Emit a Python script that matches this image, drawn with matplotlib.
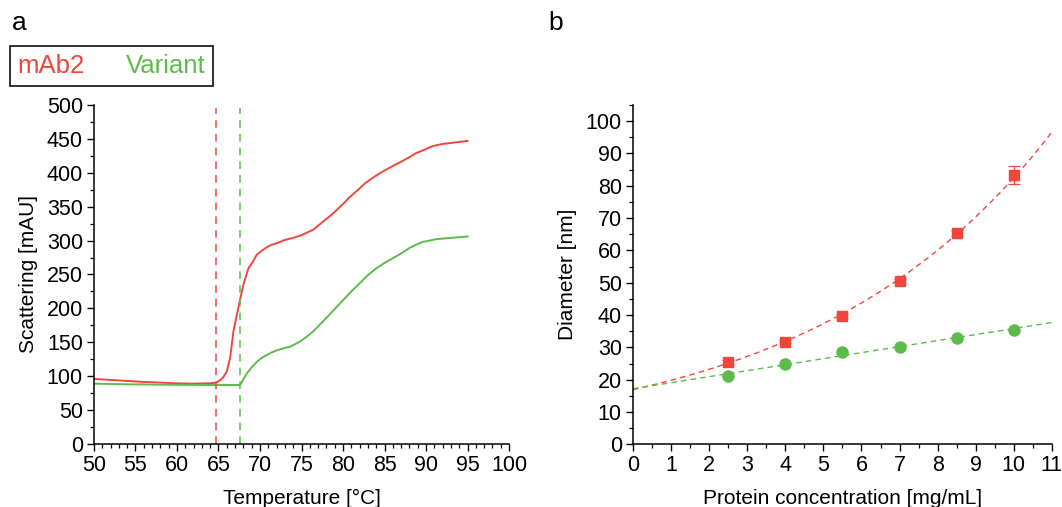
import numpy as np
import matplotlib
matplotlib.use("Agg")
import matplotlib.pyplot as plt
from matplotlib.ticker import MultipleLocator
from matplotlib.lines import Line2D

plt.rcParams['font.family'] = ['Liberation Sans', 'DejaVu Sans']

RED = '#F0463C'
GREEN = '#5DBB4C'

# --- panel a: scattering vs temperature ---
temp_mab2 = [50, 52, 54, 56, 58, 60, 62, 64, 64.7, 65.2, 65.6, 66.0, 66.4, 66.8, 67.2,
             67.6, 68.0, 68.6, 69.2, 69.6, 70.2, 70.8, 71.4, 72, 73, 74, 75, 76.4, 77.5,
             78.8, 80, 80.8, 82, 82.7, 84, 84.8, 86, 86.8, 88, 88.8, 90, 90.4, 91, 92,
             93, 94, 95]
scat_mab2 = [96, 94.5, 93, 91.5, 90.5, 89.5, 89, 89.5, 90.5, 94, 99, 107, 127, 166, 190,
             213, 235, 259, 270, 279, 285, 290, 294, 296, 301, 304, 308, 316, 327,
             340, 354, 364, 377, 385, 396, 402, 410, 415, 423, 429, 435, 437.5, 440, 442.5,
             444, 445.5, 447]

temp_var = [50, 52, 54, 56, 58, 60, 62, 64, 66, 67.6, 68.4, 69.0, 69.6, 70.2, 70.8, 71.4,
            72, 72.8, 73.6, 74.2, 74.8, 75.6, 76.4, 77.2, 78, 79, 80, 81, 82, 83, 84,
            85, 86, 87, 88, 88.8, 89.6, 90.4, 91.2, 92.5, 94, 95]
scat_var = [89, 88.5, 88, 87.8, 87.5, 87.3, 87.1, 87, 87, 87, 104, 113, 121, 127, 131, 135,
            138, 141, 143.5, 147, 151, 158, 166, 176, 186, 199, 212, 225, 237, 249, 259,
            267, 274, 281, 289, 294, 298, 300, 302, 303.5, 305, 306]

tm_mab2 = 64.7
tm_var = 67.6

# --- panel b: diameter vs concentration ---
conc = [2.5, 4, 5.5, 7, 8.5, 10]
diam_mab2 = [25.5, 31.8, 39.8, 50.6, 65.4, 83.3]
err_mab2 = [0.5, 0.5, 0.6, 0.6, 1.0, 2.7]
diam_var = [21.1, 24.8, 28.5, 30.2, 33.0, 35.4]

fig = plt.figure(figsize=(10.62, 5.07), dpi=100)
ax1 = fig.add_axes([0.0885, 0.1243, 0.3908, 0.6686])
ax2 = fig.add_axes([0.596, 0.1237, 0.3945, 0.6692])

for ax in (ax1, ax2):
    for side in ('top', 'right'):
        ax.spines[side].set_visible(False)
    ax.spines['left'].set_linewidth(1.1)
    ax.spines['bottom'].set_linewidth(1.1)
    ax.tick_params(which='major', direction='out', length=5, width=1.0, labelsize=15.5, pad=3)
    ax.tick_params(which='minor', direction='out', length=3, width=0.9)

ax1.plot(temp_mab2, scat_mab2, color=RED, lw=1.4)
ax1.plot(temp_var, scat_var, color=GREEN, lw=1.4)
ax1.plot([tm_mab2, tm_mab2], [0, 495], color=RED, lw=1.1, ls=(0, (5, 4)))
ax1.plot([tm_var, tm_var], [0, 495], color=GREEN, lw=1.1, ls=(0, (5, 4)))
ax1.set_xlim(50, 100)
ax1.set_ylim(0, 500)
ax1.xaxis.set_major_locator(MultipleLocator(5))
ax1.xaxis.set_minor_locator(MultipleLocator(1))
ax1.yaxis.set_major_locator(MultipleLocator(50))
ax1.yaxis.set_minor_locator(MultipleLocator(25))
ax1.set_xlabel("Temperature [°C]", fontsize=15, labelpad=9)
ax1.set_ylabel("Scattering [mAU]", fontsize=15, labelpad=6)

# fits: exponential for mAb2, linear for the variant
k, lnd0 = np.polyfit(conc, np.log(diam_mab2), 1)
slope, icpt = np.polyfit(conc, diam_var, 1)
xfit = np.linspace(0, 11, 200)
ax2.plot(xfit, np.exp(lnd0) * np.exp(k * xfit), color=RED, lw=1.0, ls=(0, (4, 3)))
ax2.plot(xfit, icpt + slope * xfit, color=GREEN, lw=1.0, ls=(0, (4, 3)))
ax2.errorbar(conc, diam_mab2, yerr=err_mab2, fmt='s', color=RED, ms=7.5,
             ecolor=RED, elinewidth=0.9, capsize=4, capthick=0.9, zorder=3)
ax2.plot(conc, diam_var, 'o', color=GREEN, ms=8, zorder=3)
ax2.set_xlim(0, 11)
ax2.set_ylim(0, 105)
ax2.xaxis.set_major_locator(MultipleLocator(1))
ax2.xaxis.set_minor_locator(MultipleLocator(0.5))
ax2.yaxis.set_minor_locator(MultipleLocator(5))
ax2.set_yticks(np.arange(0, 101, 10))
ax2.set_xlabel("Protein concentration [mg/mL]", fontsize=15, labelpad=9)
ax2.set_ylabel("Diameter [nm]", fontsize=15, labelpad=6)

# colour key
handles = [Line2D([], [], color=RED, lw=0), Line2D([], [], color=GREEN, lw=0)]
leg = fig.legend(handles, ["mAb2", "Variant"], loc='upper left',
                 bbox_to_anchor=(0.0094, 0.909), borderaxespad=0, ncol=2,
                 handlelength=0, handletextpad=0, columnspacing=1.6, borderpad=0.3,
                 labelcolor=[RED, GREEN], fontsize=18.5, fancybox=False,
                 edgecolor='#222222', framealpha=1)
leg.get_frame().set_linewidth(1.3)

fig.text(0.011, 0.955, "a", fontsize=19, va='center')
fig.text(0.516, 0.955, "b", fontsize=19, va='center')

fig.savefig("out.png", dpi=100)
